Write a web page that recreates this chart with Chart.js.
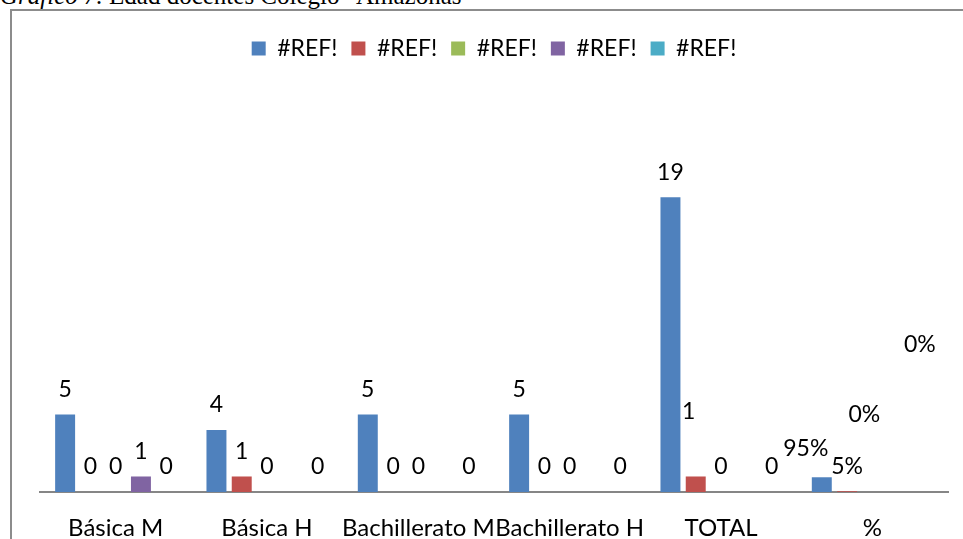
<!DOCTYPE html>
<html lang="es">
<head>
    <meta charset="UTF-8">
    <title>Edad docentes</title>
    <script src="https://cdn.jsdelivr.net/npm/chart.js"></script>
    <style>
        body { margin: 0; background: #fff; width: 963px; height: 539px; overflow: hidden; position: relative; }
        .titulo { position: absolute; left: 0; top: -17px; font: 25px/25px "Liberation Serif", serif; white-space: nowrap; color: #000; }
        .marco { position: absolute; left: 10px; top: 9px; right: -5px; bottom: -5px; border-top: 2px solid #8c8c8c; border-left: 2px solid #8c8c8c; }
        canvas { position: absolute; left: 0; top: 0; }
    </style>
</head>
<body>
    <div class="titulo"><i>Gráfico 7.</i> Edad docentes Colegio "Amazonas"</div>
    <div class="marco"></div>
    <canvas id="grafico" width="963" height="539"></canvas>

    <script>
        // categorias y series
        const categorias = ['Básica M', 'Básica H', 'Bachillerato M', 'Bachillerato H', 'TOTAL', '%'];
        const nombres = ['#REF!', '#REF!', '#REF!', '#REF!', '#REF!'];
        const serie1 = [5, 4, 5, 5, 19, 0.95];
        const serie2 = [0, 1, 0, 0, 1, 0.05];
        const serie3 = [0, 0, 0, 0, 0, 0];
        const serie4 = [1, null, null, null, null, null];
        const serie5 = [0, 0, 0, 0, 0, 0];

        const colores = ['#4F81BD', '#C0504D', '#9BBB59', '#8064A2', '#4BACC6'];
        const series = [serie1, serie2, serie3, serie4, serie5];
        const fuente = 'Lato, "Open Sans", sans-serif';

        // etiquetas que en el original fueron movidas a mano (dataset-indice: [dx, dy])
        const desplazar = { '1-4': [-7, -40], '0-5': [-16, -4], '2-5': [-8, -52], '4-5': [-3, -122] };

        const etiquetas = {
            id: 'etiquetas',
            afterDatasetsDraw(chart) {
                const ctx = chart.ctx;
                ctx.save();
                ctx.font = '23px ' + fuente;
                ctx.fillStyle = '#000';
                ctx.textAlign = 'center';
                ctx.textBaseline = 'middle';
                chart.data.datasets.forEach((ds, d) => {
                    chart.getDatasetMeta(d).data.forEach((bar, i) => {
                        const v = ds.data[i];
                        if (v === null) return;
                        const txt = categorias[i] === '%' ? Math.round(v * 100) + '%' : String(v);
                        const n = desplazar[d + '-' + i] || [0, 0];
                        ctx.fillText(txt, bar.x + n[0], bar.y - 25 + n[1]);
                    });
                });
                ctx.restore();
            }
        };

        new Chart(document.getElementById('grafico'), {
            type: 'bar',
            data: {
                labels: categorias,
                datasets: series.map((s, k) => ({
                    label: nombres[k],
                    data: s,
                    backgroundColor: colores[k],
                    categoryPercentage: 0.835,
                    barPercentage: 0.79
                }))
            },
            options: {
                responsive: false,
                animation: false,
                devicePixelRatio: 1,
                layout: { padding: { left: 40, right: 15, top: 23, bottom: -25 } },
                plugins: {
                    tooltip: { enabled: false },
                    legend: {
                        position: 'top',
                        labels: {
                            boxWidth: 14,
                            boxHeight: 14,
                            padding: 14,
                            color: '#000',
                            font: { size: 23, family: fuente }
                        }
                    }
                },
                scales: {
                    x: {
                        grid: { display: false, drawTicks: false },
                        border: { display: true, color: '#868686', width: 2 },
                        ticks: {
                            autoSkip: false,
                            maxRotation: 0,
                            padding: 24,
                            color: '#000',
                            font: { size: 24, family: fuente, lineHeight: 1 }
                        }
                    },
                    y: { display: false, min: 0, max: 27.2 }
                }
            },
            plugins: [etiquetas]
        });
    </script>
</body>
</html>
